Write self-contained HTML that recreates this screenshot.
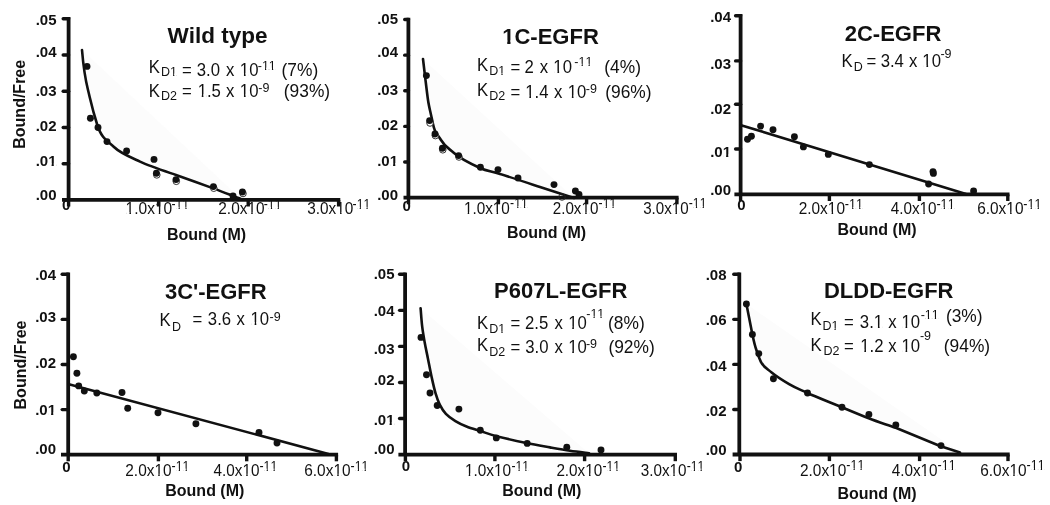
<!DOCTYPE html>
<html><head><meta charset="utf-8"><title>Scatchard plots</title>
<style>
html,body{margin:0;padding:0;background:#fff;}
body{width:1050px;height:505px;overflow:hidden;font-family:"Liberation Sans", sans-serif;}
text{font-kerning:none;}
svg{display:block;will-change:transform;font-family:"Liberation Sans", sans-serif;fill:#111;}
</style></head><body>
<svg width="1050" height="505" viewBox="0 0 1050 505">
<defs></defs>
<rect x="0" y="0" width="1050" height="505" fill="#ffffff"/>
<path d="M82,50 C83,62 85.5,80 88,90 S92,108 97,124 S108,141 114,147 S130,157 140,161.6 S166,171.5 176,175 S205,185.3 214,188.6 S235,196.8 241,199 Z" fill="#fcfcfc" stroke="none"/>
<text x="56.5" y="25" font-size="15" font-weight="700" text-anchor="end">.05</text>
<text x="56.5" y="57.3" font-size="15" font-weight="700" text-anchor="end">.04</text>
<text x="56.5" y="96" font-size="15" font-weight="700" text-anchor="end">.03</text>
<text x="56.5" y="131" font-size="15" font-weight="700" text-anchor="end">.02</text>
<text x="56.5" y="165.9" font-size="15" font-weight="700" text-anchor="end">.01</text><rect x="48.66" y="163.37" width="2.92" height="3.23" fill="#fff"/><rect x="53.79" y="163.37" width="2.73" height="3.23" fill="#fff"/>
<text x="56.5" y="200.4" font-size="15" font-weight="700" text-anchor="end">.00</text>
<text x="66.2" y="210.20000000000002" font-size="15" font-weight="700" text-anchor="middle">0</text>
<text x="125.62" y="214.3" font-size="17.3" textLength="46.63" lengthAdjust="spacingAndGlyphs">1.0x10</text><rect x="126.35" y="212.01" width="3.10" height="2.99" fill="#fff"/><rect x="130.97" y="212.01" width="2.98" height="2.99" fill="#fff"/><rect x="155.70" y="212.01" width="3.10" height="2.99" fill="#fff"/><rect x="160.33" y="212.01" width="2.98" height="2.99" fill="#fff"/>
<text x="171.51" y="209.0" font-size="15" textLength="17.66" lengthAdjust="spacingAndGlyphs">-11</text><rect x="176.15" y="206.88" width="2.44" height="2.82" fill="#fff"/><rect x="179.79" y="206.88" width="2.34" height="2.82" fill="#fff"/><rect x="182.94" y="206.88" width="2.44" height="2.82" fill="#fff"/><rect x="186.58" y="206.88" width="2.34" height="2.82" fill="#fff"/>
<text x="218.29" y="214.3" font-size="17.3" textLength="46.26" lengthAdjust="spacingAndGlyphs">2.0x10</text><rect x="248.14" y="212.01" width="3.08" height="2.99" fill="#fff"/><rect x="252.73" y="212.01" width="2.96" height="2.99" fill="#fff"/>
<text x="263.81" y="209.0" font-size="15" textLength="17.66" lengthAdjust="spacingAndGlyphs">-11</text><rect x="268.45" y="206.88" width="2.44" height="2.82" fill="#fff"/><rect x="272.09" y="206.88" width="2.34" height="2.82" fill="#fff"/><rect x="275.24" y="206.88" width="2.44" height="2.82" fill="#fff"/><rect x="278.88" y="206.88" width="2.34" height="2.82" fill="#fff"/>
<text x="307.26" y="214.3" font-size="17.3" textLength="46.09" lengthAdjust="spacingAndGlyphs">3.0x10</text><rect x="337.00" y="212.01" width="3.07" height="2.99" fill="#fff"/><rect x="341.57" y="212.01" width="2.95" height="2.99" fill="#fff"/>
<text x="352.61" y="209.0" font-size="15" textLength="17.66" lengthAdjust="spacingAndGlyphs">-11</text><rect x="357.25" y="206.88" width="2.44" height="2.82" fill="#fff"/><rect x="360.89" y="206.88" width="2.34" height="2.82" fill="#fff"/><rect x="364.04" y="206.88" width="2.44" height="2.82" fill="#fff"/><rect x="367.68" y="206.88" width="2.34" height="2.82" fill="#fff"/>
<line x1="68.6" y1="17.1" x2="68.6" y2="199.9" stroke="#111" stroke-width="3.8"/>
<line x1="62" y1="199.9" x2="340.3" y2="199.9" stroke="#111" stroke-width="3.8"/>
<line x1="63.2" y1="18.80" x2="68.6" y2="18.80" stroke="#111" stroke-width="3.4" stroke-linecap="round"/>
<line x1="63.2" y1="55.02" x2="68.6" y2="55.02" stroke="#111" stroke-width="3.4" stroke-linecap="round"/>
<line x1="63.2" y1="91.24" x2="68.6" y2="91.24" stroke="#111" stroke-width="3.4" stroke-linecap="round"/>
<line x1="63.2" y1="127.46" x2="68.6" y2="127.46" stroke="#111" stroke-width="3.4" stroke-linecap="round"/>
<line x1="63.2" y1="163.68" x2="68.6" y2="163.68" stroke="#111" stroke-width="3.4" stroke-linecap="round"/>
<line x1="68.6" y1="199.9" x2="68.6" y2="206.5" stroke="#111" stroke-width="3.4"/>
<line x1="158.6" y1="199.9" x2="158.6" y2="206.5" stroke="#111" stroke-width="3.4"/>
<line x1="248.2" y1="199.9" x2="248.2" y2="206.5" stroke="#111" stroke-width="3.4"/>
<line x1="338.6" y1="199.9" x2="338.6" y2="206.5" stroke="#111" stroke-width="3.4"/>
<text x="206.5" y="239.5" font-size="16" font-weight="700" text-anchor="middle">Bound (M)</text>
<text transform="translate(25,104.3) rotate(-90)" font-size="16" font-weight="700" text-anchor="middle">Bound/Free</text>
<text x="217.5" y="43" font-size="22.5" font-weight="700" text-anchor="middle">Wild type</text>
<text transform="translate(148.63,73.0) scale(0.93,1)" font-size="18">K</text>
<text x="160.97" y="75.5" font-size="12.5">D1</text><rect x="170.58" y="73.57" width="2.50" height="2.63" fill="#fff"/><rect x="174.31" y="73.57" width="2.40" height="2.63" fill="#fff"/>
<text transform="translate(182.08,75.5) scale(0.93,1)" font-size="18">=</text>
<text transform="translate(196.76,75.5) scale(0.93,1)" font-size="18">3.0</text>
<text transform="translate(226.12,75.5) scale(0.93,1)" font-size="18">x</text>
<text transform="translate(239.83,75.5) scale(0.93,1)" font-size="18">10</text><rect x="240.61" y="73.16" width="3.34" height="3.04" fill="#fff"/><rect x="245.60" y="73.16" width="3.21" height="3.04" fill="#fff"/>
<text x="257.75" y="69.6" font-size="12.5">-11</text><rect x="262.50" y="67.67" width="2.50" height="2.63" fill="#fff"/><rect x="266.22" y="67.67" width="2.40" height="2.63" fill="#fff"/><rect x="269.45" y="67.67" width="2.50" height="2.63" fill="#fff"/><rect x="273.17" y="67.67" width="2.40" height="2.63" fill="#fff"/>
<text transform="translate(281.52,75.5) scale(0.965,1)" font-size="18">(7%)</text>
<text transform="translate(148.63,96.7) scale(0.93,1)" font-size="18">K</text>
<text x="160.97" y="99.6" font-size="12.5">D2</text>
<text transform="translate(182.08,96.7) scale(0.93,1)" font-size="18">=</text>
<text transform="translate(197.63,96.7) scale(0.93,1)" font-size="18">1.5</text><rect x="198.41" y="94.36" width="3.34" height="3.04" fill="#fff"/><rect x="203.40" y="94.36" width="3.21" height="3.04" fill="#fff"/>
<text transform="translate(226.12,96.7) scale(0.93,1)" font-size="18">x</text>
<text transform="translate(239.83,96.7) scale(0.93,1)" font-size="18">10</text><rect x="240.61" y="94.36" width="3.34" height="3.04" fill="#fff"/><rect x="245.60" y="94.36" width="3.21" height="3.04" fill="#fff"/>
<text x="258.35" y="91.9" font-size="12.5">-9</text>
<text transform="translate(283.82,96.7) scale(0.965,1)" font-size="18">(93%)</text>
<path d="M82,50 C83,62 85.5,80 88,90 S92,108 97,124 S108,141 114,147 S130,157 140,161.6 S166,171.5 176,175 S205,185.3 214,188.6 S235,196.8 241,199" fill="none" stroke="#111" stroke-width="2.6" stroke-linecap="round" stroke-linejoin="round"/>
<circle cx="156.8" cy="174.9" r="3.3" fill="#fff" stroke="#222" stroke-width="0.9"/>
<circle cx="176.3" cy="181.3" r="3.3" fill="#fff" stroke="#222" stroke-width="0.9"/>
<circle cx="213.8" cy="188.2" r="3.3" fill="#fff" stroke="#222" stroke-width="0.9"/>
<circle cx="243" cy="193.5" r="3.3" fill="#fff" stroke="#222" stroke-width="0.9"/>
<circle cx="87" cy="66.4" r="3.45" fill="#111"/>
<circle cx="90.4" cy="118.2" r="3.45" fill="#111"/>
<circle cx="98" cy="127.5" r="3.45" fill="#111"/>
<circle cx="107" cy="141.6" r="3.45" fill="#111"/>
<circle cx="126.6" cy="151" r="3.45" fill="#111"/>
<circle cx="154" cy="159.4" r="3.45" fill="#111"/>
<circle cx="156.4" cy="173.2" r="3.45" fill="#111"/>
<circle cx="176" cy="179.6" r="3.45" fill="#111"/>
<circle cx="213.4" cy="186.6" r="3.45" fill="#111"/>
<circle cx="233" cy="196" r="3.45" fill="#111"/>
<circle cx="242.4" cy="192" r="3.45" fill="#111"/>
<path d="M423,59 C423.8,66 424.5,72 425,76 S427,93 428,100 S430.5,112 433,124 S437,133 441,140 S449,148.5 454,153 S473,164.8 480,168 S490,171 500,174 S530,183.7 540,187 S567,195.8 574,198 Z" fill="#fcfcfc" stroke="none"/>
<text x="398" y="24.4" font-size="15" font-weight="700" text-anchor="end">.05</text>
<text x="398" y="57" font-size="15" font-weight="700" text-anchor="end">.04</text>
<text x="398" y="95" font-size="15" font-weight="700" text-anchor="end">.03</text>
<text x="398" y="130" font-size="15" font-weight="700" text-anchor="end">.02</text>
<text x="398" y="165.6" font-size="15" font-weight="700" text-anchor="end">.01</text><rect x="390.16" y="163.07" width="2.92" height="3.23" fill="#fff"/><rect x="395.29" y="163.07" width="2.73" height="3.23" fill="#fff"/>
<text x="398" y="200" font-size="15" font-weight="700" text-anchor="end">.00</text>
<text x="406.6" y="210.6" font-size="15" font-weight="700" text-anchor="middle">0</text>
<text x="463.92" y="214.2" font-size="17.3" textLength="45.93" lengthAdjust="spacingAndGlyphs">1.0x10</text><rect x="464.64" y="211.91" width="3.06" height="2.99" fill="#fff"/><rect x="469.19" y="211.91" width="2.94" height="2.99" fill="#fff"/><rect x="493.55" y="211.91" width="3.06" height="2.99" fill="#fff"/><rect x="498.11" y="211.91" width="2.94" height="2.99" fill="#fff"/>
<text x="510.11" y="208.1" font-size="15" textLength="17.66" lengthAdjust="spacingAndGlyphs">-11</text><rect x="514.75" y="205.98" width="2.44" height="2.82" fill="#fff"/><rect x="518.39" y="205.98" width="2.34" height="2.82" fill="#fff"/><rect x="521.54" y="205.98" width="2.44" height="2.82" fill="#fff"/><rect x="525.18" y="205.98" width="2.34" height="2.82" fill="#fff"/>
<text x="552.79" y="214.2" font-size="17.3" textLength="45.56" lengthAdjust="spacingAndGlyphs">2.0x10</text><rect x="582.18" y="211.91" width="3.03" height="2.99" fill="#fff"/><rect x="586.70" y="211.91" width="2.91" height="2.99" fill="#fff"/>
<text x="598.61" y="208.1" font-size="15" textLength="17.66" lengthAdjust="spacingAndGlyphs">-11</text><rect x="603.25" y="205.98" width="2.44" height="2.82" fill="#fff"/><rect x="606.89" y="205.98" width="2.34" height="2.82" fill="#fff"/><rect x="610.04" y="205.98" width="2.44" height="2.82" fill="#fff"/><rect x="613.68" y="205.98" width="2.34" height="2.82" fill="#fff"/>
<text x="643.16" y="214.2" font-size="17.3" textLength="45.39" lengthAdjust="spacingAndGlyphs">3.0x10</text><rect x="672.44" y="211.91" width="3.02" height="2.99" fill="#fff"/><rect x="676.95" y="211.91" width="2.90" height="2.99" fill="#fff"/>
<text x="688.81" y="208.1" font-size="15" textLength="17.66" lengthAdjust="spacingAndGlyphs">-11</text><rect x="693.45" y="205.98" width="2.44" height="2.82" fill="#fff"/><rect x="697.09" y="205.98" width="2.34" height="2.82" fill="#fff"/><rect x="700.24" y="205.98" width="2.44" height="2.82" fill="#fff"/><rect x="703.88" y="205.98" width="2.34" height="2.82" fill="#fff"/>
<line x1="408.4" y1="17.8" x2="408.4" y2="197.7" stroke="#111" stroke-width="3.8"/>
<line x1="403.5" y1="197.7" x2="678.6" y2="197.7" stroke="#111" stroke-width="3.8"/>
<line x1="404.7" y1="19.50" x2="408.4" y2="19.50" stroke="#111" stroke-width="3.4" stroke-linecap="round"/>
<line x1="404.7" y1="55.14" x2="408.4" y2="55.14" stroke="#111" stroke-width="3.4" stroke-linecap="round"/>
<line x1="404.7" y1="90.78" x2="408.4" y2="90.78" stroke="#111" stroke-width="3.4" stroke-linecap="round"/>
<line x1="404.7" y1="126.42" x2="408.4" y2="126.42" stroke="#111" stroke-width="3.4" stroke-linecap="round"/>
<line x1="404.7" y1="162.06" x2="408.4" y2="162.06" stroke="#111" stroke-width="3.4" stroke-linecap="round"/>
<line x1="408.5" y1="197.7" x2="408.5" y2="204.29999999999998" stroke="#111" stroke-width="3.4"/>
<line x1="498.4" y1="197.7" x2="498.4" y2="204.29999999999998" stroke="#111" stroke-width="3.4"/>
<line x1="586.6" y1="197.7" x2="586.6" y2="204.29999999999998" stroke="#111" stroke-width="3.4"/>
<line x1="676.9" y1="197.7" x2="676.9" y2="204.29999999999998" stroke="#111" stroke-width="3.4"/>
<text x="546.5" y="238.4" font-size="16" font-weight="700" text-anchor="middle">Bound (M)</text>
<text x="550.5" y="43.6" font-size="22" font-weight="700" text-anchor="middle">1C-EGFR</text><rect x="502.96" y="40.35" width="4.29" height="3.95" fill="#fff"/><rect x="510.48" y="40.35" width="4.01" height="3.95" fill="#fff"/>
<text transform="translate(477.03,71.2) scale(0.93,1)" font-size="18">K</text>
<text x="489.28" y="74.9" font-size="12.5">D1</text><rect x="498.89" y="72.97" width="2.50" height="2.63" fill="#fff"/><rect x="502.62" y="72.97" width="2.40" height="2.63" fill="#fff"/>
<text transform="translate(510.38,73.2) scale(0.93,1)" font-size="18">=</text>
<text transform="translate(524.46,73.2) scale(0.93,1)" font-size="18">2</text>
<text transform="translate(539.82,73.2) scale(0.93,1)" font-size="18">x</text>
<text transform="translate(553.33,73.2) scale(0.93,1)" font-size="18">10</text><rect x="554.11" y="70.86" width="3.34" height="3.04" fill="#fff"/><rect x="559.10" y="70.86" width="3.21" height="3.04" fill="#fff"/>
<text x="574.35" y="65.6" font-size="12.5">-11</text><rect x="579.10" y="63.67" width="2.50" height="2.63" fill="#fff"/><rect x="582.82" y="63.67" width="2.40" height="2.63" fill="#fff"/><rect x="586.05" y="63.67" width="2.50" height="2.63" fill="#fff"/><rect x="589.77" y="63.67" width="2.40" height="2.63" fill="#fff"/>
<text transform="translate(604.32,73.2) scale(0.965,1)" font-size="18">(4%)</text>
<text transform="translate(477.03,95.8) scale(0.93,1)" font-size="18">K</text>
<text x="489.28" y="99.9" font-size="12.5">D2</text>
<text transform="translate(510.38,97.8) scale(0.93,1)" font-size="18">=</text>
<text transform="translate(525.23,97.8) scale(0.93,1)" font-size="18">1.4</text><rect x="526.01" y="95.46" width="3.34" height="3.04" fill="#fff"/><rect x="531.00" y="95.46" width="3.21" height="3.04" fill="#fff"/>
<text transform="translate(554.12,97.8) scale(0.93,1)" font-size="18">x</text>
<text transform="translate(567.73,97.8) scale(0.93,1)" font-size="18">10</text><rect x="568.51" y="95.46" width="3.34" height="3.04" fill="#fff"/><rect x="573.50" y="95.46" width="3.21" height="3.04" fill="#fff"/>
<text x="585.75" y="92.8" font-size="12.5">-9</text>
<text transform="translate(605.22,97.8) scale(0.965,1)" font-size="18">(96%)</text>
<path d="M423,59 C423.8,66 424.5,72 425,76 S427,93 428,100 S430.5,112 433,124 S437,133 441,140 S449,148.5 454,153 S473,164.8 480,168 S490,171 500,174 S530,183.7 540,187 S567,195.8 574,198" fill="none" stroke="#111" stroke-width="2.6" stroke-linecap="round" stroke-linejoin="round"/>
<circle cx="430" cy="123" r="3.3" fill="#fff" stroke="#222" stroke-width="0.9"/>
<circle cx="435.4" cy="135.6" r="3.3" fill="#fff" stroke="#222" stroke-width="0.9"/>
<circle cx="442.8" cy="149.8" r="3.3" fill="#fff" stroke="#222" stroke-width="0.9"/>
<circle cx="459" cy="157" r="3.3" fill="#fff" stroke="#222" stroke-width="0.9"/>
<circle cx="562" cy="197" r="3.3" fill="none" stroke="#222" stroke-width="0.9"/>
<circle cx="426.4" cy="75.6" r="3.45" fill="#111"/>
<circle cx="429.6" cy="120.6" r="3.45" fill="#111"/>
<circle cx="435" cy="134" r="3.45" fill="#111"/>
<circle cx="442.4" cy="148.2" r="3.45" fill="#111"/>
<circle cx="458.6" cy="155.6" r="3.45" fill="#111"/>
<circle cx="480.4" cy="167.2" r="3.45" fill="#111"/>
<circle cx="498" cy="169.6" r="3.45" fill="#111"/>
<circle cx="518" cy="178" r="3.45" fill="#111"/>
<circle cx="554" cy="184.6" r="3.45" fill="#111"/>
<circle cx="575.4" cy="191" r="3.45" fill="#111"/>
<circle cx="579" cy="194.4" r="3.45" fill="#111"/>
<text x="731" y="22.3" font-size="15" font-weight="700" text-anchor="end">.04</text>
<text x="731" y="68.8" font-size="15" font-weight="700" text-anchor="end">.03</text>
<text x="731" y="114.3" font-size="15" font-weight="700" text-anchor="end">.02</text>
<text x="731" y="157" font-size="15" font-weight="700" text-anchor="end">.01</text><rect x="723.16" y="154.47" width="2.92" height="3.23" fill="#fff"/><rect x="728.29" y="154.47" width="2.73" height="3.23" fill="#fff"/>
<text x="731" y="194.7" font-size="15" font-weight="700" text-anchor="end">.00</text>
<text x="741.3" y="209.70000000000002" font-size="15" font-weight="700" text-anchor="middle">0</text>
<text x="798.69" y="214.0" font-size="17.3" textLength="46.26" lengthAdjust="spacingAndGlyphs">2.0x10</text><rect x="828.54" y="211.71" width="3.08" height="2.99" fill="#fff"/><rect x="833.13" y="211.71" width="2.96" height="2.99" fill="#fff"/>
<text x="844.81" y="209.1" font-size="15" textLength="18.26" lengthAdjust="spacingAndGlyphs">-11</text><rect x="849.61" y="206.98" width="2.52" height="2.82" fill="#fff"/><rect x="853.37" y="206.98" width="2.42" height="2.82" fill="#fff"/><rect x="856.63" y="206.98" width="2.52" height="2.82" fill="#fff"/><rect x="860.40" y="206.98" width="2.42" height="2.82" fill="#fff"/>
<text x="890.67" y="214.0" font-size="17.3" textLength="45.88" lengthAdjust="spacingAndGlyphs">4.0x10</text><rect x="920.27" y="211.71" width="3.05" height="2.99" fill="#fff"/><rect x="924.82" y="211.71" width="2.93" height="2.99" fill="#fff"/>
<text x="936.41" y="209.1" font-size="15" textLength="18.26" lengthAdjust="spacingAndGlyphs">-11</text><rect x="941.21" y="206.98" width="2.52" height="2.82" fill="#fff"/><rect x="944.97" y="206.98" width="2.42" height="2.82" fill="#fff"/><rect x="948.23" y="206.98" width="2.52" height="2.82" fill="#fff"/><rect x="952.00" y="206.98" width="2.42" height="2.82" fill="#fff"/>
<text x="977.18" y="214.0" font-size="17.3" textLength="46.28" lengthAdjust="spacingAndGlyphs">6.0x10</text><rect x="1007.04" y="211.71" width="3.08" height="2.99" fill="#fff"/><rect x="1011.63" y="211.71" width="2.96" height="2.99" fill="#fff"/>
<text x="1023.31" y="209.1" font-size="15" textLength="18.26" lengthAdjust="spacingAndGlyphs">-11</text><rect x="1028.11" y="206.98" width="2.52" height="2.82" fill="#fff"/><rect x="1031.87" y="206.98" width="2.42" height="2.82" fill="#fff"/><rect x="1035.13" y="206.98" width="2.52" height="2.82" fill="#fff"/><rect x="1038.90" y="206.98" width="2.42" height="2.82" fill="#fff"/>
<line x1="740.6" y1="14.0" x2="740.6" y2="194.4" stroke="#111" stroke-width="3.8"/>
<line x1="734.4" y1="194.4" x2="1009.5" y2="194.4" stroke="#111" stroke-width="3.8"/>
<line x1="735.6" y1="15.70" x2="740.6" y2="15.70" stroke="#111" stroke-width="3.4" stroke-linecap="round"/>
<line x1="735.6" y1="60.90" x2="740.6" y2="60.90" stroke="#111" stroke-width="3.4" stroke-linecap="round"/>
<line x1="735.6" y1="104.30" x2="740.6" y2="104.30" stroke="#111" stroke-width="3.4" stroke-linecap="round"/>
<line x1="735.6" y1="149.00" x2="740.6" y2="149.00" stroke="#111" stroke-width="3.4" stroke-linecap="round"/>
<line x1="740.6" y1="194.4" x2="740.6" y2="201.0" stroke="#111" stroke-width="3.4"/>
<line x1="829.4" y1="194.4" x2="829.4" y2="201.0" stroke="#111" stroke-width="3.4"/>
<line x1="919.4" y1="194.4" x2="919.4" y2="201.0" stroke="#111" stroke-width="3.4"/>
<line x1="1007.8" y1="194.4" x2="1007.8" y2="201.0" stroke="#111" stroke-width="3.4"/>
<text x="877" y="235" font-size="16" font-weight="700" text-anchor="middle">Bound (M)</text>
<text x="893" y="41" font-size="22" font-weight="700" text-anchor="middle">2C-EGFR</text>
<text transform="translate(841.43,67.3) scale(0.93,1)" font-size="18">K</text>
<text x="853.68" y="71.0" font-size="12.5">D</text>
<text transform="translate(866.38,67.3) scale(0.93,1)" font-size="18">=</text>
<text transform="translate(880.66,67.3) scale(0.93,1)" font-size="18">3.4</text>
<text transform="translate(909.12,67.3) scale(0.93,1)" font-size="18">x</text>
<text transform="translate(922.33,67.3) scale(0.93,1)" font-size="18">10</text><rect x="923.11" y="64.96" width="3.34" height="3.04" fill="#fff"/><rect x="928.10" y="64.96" width="3.21" height="3.04" fill="#fff"/>
<text x="940.45" y="57.8" font-size="12.5">-9</text>
<path d="M741,125.2 L966,194" fill="none" stroke="#111" stroke-width="2.6" stroke-linecap="round" stroke-linejoin="round"/>
<circle cx="747.5" cy="139.2" r="3.45" fill="#111"/>
<circle cx="751.4" cy="136.2" r="3.45" fill="#111"/>
<circle cx="760.6" cy="126.1" r="3.45" fill="#111"/>
<circle cx="773" cy="129.7" r="3.45" fill="#111"/>
<circle cx="794.4" cy="136.8" r="3.45" fill="#111"/>
<circle cx="803.4" cy="146.9" r="3.45" fill="#111"/>
<circle cx="828.3" cy="154.4" r="3.45" fill="#111"/>
<circle cx="869.4" cy="164.6" r="3.45" fill="#111"/>
<circle cx="933" cy="171.6" r="3.45" fill="#111"/>
<circle cx="933.4" cy="173.4" r="3.45" fill="#111"/>
<circle cx="928.6" cy="184" r="3.45" fill="#111"/>
<circle cx="973.6" cy="191" r="3.45" fill="#111"/>
<text x="56" y="280" font-size="15" font-weight="700" text-anchor="end">.04</text>
<text x="56" y="322.3" font-size="15" font-weight="700" text-anchor="end">.03</text>
<text x="56" y="367.7" font-size="15" font-weight="700" text-anchor="end">.02</text>
<text x="56" y="415" font-size="15" font-weight="700" text-anchor="end">.01</text><rect x="48.16" y="412.47" width="2.92" height="3.23" fill="#fff"/><rect x="53.29" y="412.47" width="2.73" height="3.23" fill="#fff"/>
<text x="56" y="453.6" font-size="15" font-weight="700" text-anchor="end">.00</text>
<text x="66.5" y="471.59999999999997" font-size="15" font-weight="700" text-anchor="middle">0</text>
<text x="125.29" y="476.0" font-size="17.3" textLength="46.26" lengthAdjust="spacingAndGlyphs">2.0x10</text><rect x="155.14" y="473.71" width="3.08" height="2.99" fill="#fff"/><rect x="159.73" y="473.71" width="2.96" height="2.99" fill="#fff"/>
<text x="171.61" y="470.7" font-size="15" textLength="17.86" lengthAdjust="spacingAndGlyphs">-11</text><rect x="176.30" y="468.58" width="2.47" height="2.82" fill="#fff"/><rect x="179.98" y="468.58" width="2.37" height="2.82" fill="#fff"/><rect x="183.17" y="468.58" width="2.47" height="2.82" fill="#fff"/><rect x="186.85" y="468.58" width="2.37" height="2.82" fill="#fff"/>
<text x="213.57" y="476.0" font-size="17.3" textLength="45.88" lengthAdjust="spacingAndGlyphs">4.0x10</text><rect x="243.17" y="473.71" width="3.05" height="2.99" fill="#fff"/><rect x="247.72" y="473.71" width="2.93" height="2.99" fill="#fff"/>
<text x="259.51" y="470.7" font-size="15" textLength="17.86" lengthAdjust="spacingAndGlyphs">-11</text><rect x="264.20" y="468.58" width="2.47" height="2.82" fill="#fff"/><rect x="267.88" y="468.58" width="2.37" height="2.82" fill="#fff"/><rect x="271.07" y="468.58" width="2.47" height="2.82" fill="#fff"/><rect x="274.75" y="468.58" width="2.37" height="2.82" fill="#fff"/>
<text x="304.28" y="476.0" font-size="17.3" textLength="46.28" lengthAdjust="spacingAndGlyphs">6.0x10</text><rect x="334.14" y="473.71" width="3.08" height="2.99" fill="#fff"/><rect x="338.73" y="473.71" width="2.96" height="2.99" fill="#fff"/>
<text x="350.61" y="470.7" font-size="15" textLength="17.86" lengthAdjust="spacingAndGlyphs">-11</text><rect x="355.30" y="468.58" width="2.47" height="2.82" fill="#fff"/><rect x="358.98" y="468.58" width="2.37" height="2.82" fill="#fff"/><rect x="362.17" y="468.58" width="2.47" height="2.82" fill="#fff"/><rect x="365.85" y="468.58" width="2.37" height="2.82" fill="#fff"/>
<line x1="68.2" y1="272.6" x2="68.2" y2="454.7" stroke="#111" stroke-width="3.8"/>
<line x1="61" y1="454.7" x2="338.09999999999997" y2="454.7" stroke="#111" stroke-width="3.8"/>
<line x1="62.2" y1="274.30" x2="68.2" y2="274.30" stroke="#111" stroke-width="3.4" stroke-linecap="round"/>
<line x1="62.2" y1="319.40" x2="68.2" y2="319.40" stroke="#111" stroke-width="3.4" stroke-linecap="round"/>
<line x1="62.2" y1="364.50" x2="68.2" y2="364.50" stroke="#111" stroke-width="3.4" stroke-linecap="round"/>
<line x1="62.2" y1="409.60" x2="68.2" y2="409.60" stroke="#111" stroke-width="3.4" stroke-linecap="round"/>
<line x1="68.2" y1="454.7" x2="68.2" y2="461.3" stroke="#111" stroke-width="3.4"/>
<line x1="158.4" y1="454.7" x2="158.4" y2="461.3" stroke="#111" stroke-width="3.4"/>
<line x1="246.7" y1="454.7" x2="246.7" y2="461.3" stroke="#111" stroke-width="3.4"/>
<line x1="336.4" y1="454.7" x2="336.4" y2="461.3" stroke="#111" stroke-width="3.4"/>
<text x="204.8" y="496.4" font-size="16" font-weight="700" text-anchor="middle">Bound (M)</text>
<text transform="translate(25.5,365) rotate(-90)" font-size="16" font-weight="700" text-anchor="middle">Bound/Free</text>
<text x="215.8" y="299" font-size="22" font-weight="700" text-anchor="middle">3C'-EGFR</text>
<text transform="translate(159.53,326.2) scale(0.93,1)" font-size="18">K</text>
<text x="171.88" y="330.7" font-size="12.5">D</text>
<text transform="translate(192.58,324.5) scale(0.93,1)" font-size="18">=</text>
<text transform="translate(207.86,324.5) scale(0.93,1)" font-size="18">3.6</text>
<text transform="translate(236.52,324.5) scale(0.93,1)" font-size="18">x</text>
<text transform="translate(250.53,324.5) scale(0.93,1)" font-size="18">10</text><rect x="251.31" y="322.16" width="3.34" height="3.04" fill="#fff"/><rect x="256.30" y="322.16" width="3.21" height="3.04" fill="#fff"/>
<text x="269.55" y="320.8" font-size="12.5">-9</text>
<path d="M68.9,384.2 L328.5,454" fill="none" stroke="#111" stroke-width="2.6" stroke-linecap="round" stroke-linejoin="round"/>
<circle cx="73.4" cy="356.8" r="3.45" fill="#111"/>
<circle cx="76.9" cy="373.2" r="3.45" fill="#111"/>
<circle cx="78.7" cy="385.9" r="3.45" fill="#111"/>
<circle cx="84.3" cy="391" r="3.45" fill="#111"/>
<circle cx="96.8" cy="393" r="3.45" fill="#111"/>
<circle cx="122" cy="392.5" r="3.45" fill="#111"/>
<circle cx="127.7" cy="408.2" r="3.45" fill="#111"/>
<circle cx="158" cy="412.7" r="3.45" fill="#111"/>
<circle cx="195.9" cy="423.8" r="3.45" fill="#111"/>
<circle cx="259" cy="432.4" r="3.45" fill="#111"/>
<circle cx="277" cy="443" r="3.45" fill="#111"/>
<path d="M420.6,308.3 C420.87,311.37 421.52,321.00 422.2,326.7 C422.88,332.40 423.75,337.22 424.7,342.5 C425.65,347.78 426.73,352.58 427.9,358.4 C429.07,364.22 430.43,371.60 431.7,377.4 C432.97,383.20 434.18,388.72 435.5,393.2 C436.82,397.68 437.87,400.87 439.6,404.3 C441.33,407.73 443.27,411.00 445.9,413.8 C448.53,416.60 451.97,418.98 455.4,421.1 C458.83,423.22 462.27,424.82 466.5,426.5 C470.73,428.18 475.78,429.58 480.8,431.2 C485.82,432.82 489.02,434.23 496.6,436.2 C504.18,438.17 517.40,441.13 526.3,443 C535.20,444.87 542.72,446.10 550,447.4 C557.28,448.70 563.50,449.83 570,450.8 C576.50,451.77 585.83,452.80 589,453.2 Z" fill="#fcfcfc" stroke="none"/>
<text x="394.5" y="279.4" font-size="15" font-weight="700" text-anchor="end">.05</text>
<text x="394.5" y="316" font-size="15" font-weight="700" text-anchor="end">.04</text>
<text x="394.5" y="354.4" font-size="15" font-weight="700" text-anchor="end">.03</text>
<text x="394.5" y="384.5" font-size="15" font-weight="700" text-anchor="end">.02</text>
<text x="394.5" y="424.6" font-size="15" font-weight="700" text-anchor="end">.01</text><rect x="386.66" y="422.07" width="2.92" height="3.23" fill="#fff"/><rect x="391.79" y="422.07" width="2.73" height="3.23" fill="#fff"/>
<text x="394.5" y="453.8" font-size="15" font-weight="700" text-anchor="end">.00</text>
<text x="405.9" y="471.20000000000005" font-size="15" font-weight="700" text-anchor="middle">0</text>
<text x="464.92" y="475.8" font-size="17.3" textLength="46.23" lengthAdjust="spacingAndGlyphs">1.0x10</text><rect x="465.64" y="473.51" width="3.08" height="2.99" fill="#fff"/><rect x="470.23" y="473.51" width="2.95" height="2.99" fill="#fff"/><rect x="494.75" y="473.51" width="3.08" height="2.99" fill="#fff"/><rect x="499.33" y="473.51" width="2.95" height="2.99" fill="#fff"/>
<text x="511.41" y="470.6" font-size="15" textLength="17.66" lengthAdjust="spacingAndGlyphs">-11</text><rect x="516.05" y="468.48" width="2.44" height="2.82" fill="#fff"/><rect x="519.69" y="468.48" width="2.34" height="2.82" fill="#fff"/><rect x="522.84" y="468.48" width="2.44" height="2.82" fill="#fff"/><rect x="526.48" y="468.48" width="2.34" height="2.82" fill="#fff"/>
<text x="556.39" y="475.8" font-size="17.3" textLength="45.86" lengthAdjust="spacingAndGlyphs">2.0x10</text><rect x="585.98" y="473.51" width="3.05" height="2.99" fill="#fff"/><rect x="590.53" y="473.51" width="2.93" height="2.99" fill="#fff"/>
<text x="602.51" y="470.6" font-size="15" textLength="17.66" lengthAdjust="spacingAndGlyphs">-11</text><rect x="607.15" y="468.48" width="2.44" height="2.82" fill="#fff"/><rect x="610.79" y="468.48" width="2.34" height="2.82" fill="#fff"/><rect x="613.94" y="468.48" width="2.44" height="2.82" fill="#fff"/><rect x="617.58" y="468.48" width="2.34" height="2.82" fill="#fff"/>
<text x="640.76" y="475.8" font-size="17.3" textLength="45.69" lengthAdjust="spacingAndGlyphs">3.0x10</text><rect x="670.24" y="473.51" width="3.04" height="2.99" fill="#fff"/><rect x="674.77" y="473.51" width="2.92" height="2.99" fill="#fff"/>
<text x="686.71" y="470.6" font-size="15" textLength="17.66" lengthAdjust="spacingAndGlyphs">-11</text><rect x="691.35" y="468.48" width="2.44" height="2.82" fill="#fff"/><rect x="694.99" y="468.48" width="2.34" height="2.82" fill="#fff"/><rect x="698.14" y="468.48" width="2.44" height="2.82" fill="#fff"/><rect x="701.78" y="468.48" width="2.34" height="2.82" fill="#fff"/>
<line x1="405.1" y1="272.6" x2="405.1" y2="454.6" stroke="#111" stroke-width="3.8"/>
<line x1="398.4" y1="454.6" x2="677.0" y2="454.6" stroke="#111" stroke-width="3.8"/>
<line x1="399.59999999999997" y1="274.30" x2="405.1" y2="274.30" stroke="#111" stroke-width="3.4" stroke-linecap="round"/>
<line x1="399.59999999999997" y1="310.36" x2="405.1" y2="310.36" stroke="#111" stroke-width="3.4" stroke-linecap="round"/>
<line x1="399.59999999999997" y1="346.42" x2="405.1" y2="346.42" stroke="#111" stroke-width="3.4" stroke-linecap="round"/>
<line x1="399.59999999999997" y1="382.48" x2="405.1" y2="382.48" stroke="#111" stroke-width="3.4" stroke-linecap="round"/>
<line x1="399.59999999999997" y1="418.54" x2="405.1" y2="418.54" stroke="#111" stroke-width="3.4" stroke-linecap="round"/>
<line x1="405.4" y1="454.6" x2="405.4" y2="461.20000000000005" stroke="#111" stroke-width="3.4"/>
<line x1="494.9" y1="454.6" x2="494.9" y2="461.20000000000005" stroke="#111" stroke-width="3.4"/>
<line x1="584.6" y1="454.6" x2="584.6" y2="461.20000000000005" stroke="#111" stroke-width="3.4"/>
<line x1="675.3" y1="454.6" x2="675.3" y2="461.20000000000005" stroke="#111" stroke-width="3.4"/>
<text x="541.8" y="496" font-size="16" font-weight="700" text-anchor="middle">Bound (M)</text>
<text x="560.7" y="298" font-size="22" font-weight="700" text-anchor="middle">P607L-EGFR</text>
<text transform="translate(477.03,328.7) scale(0.93,1)" font-size="18">K</text>
<text x="489.28" y="333.4" font-size="12.5">D1</text><rect x="498.89" y="331.47" width="2.50" height="2.63" fill="#fff"/><rect x="502.62" y="331.47" width="2.40" height="2.63" fill="#fff"/>
<text transform="translate(510.38,328.7) scale(0.93,1)" font-size="18">=</text>
<text transform="translate(525.06,328.7) scale(0.93,1)" font-size="18">2.5</text>
<text transform="translate(554.62,328.7) scale(0.93,1)" font-size="18">x</text>
<text transform="translate(568.13,328.7) scale(0.93,1)" font-size="18">10</text><rect x="568.91" y="326.36" width="3.34" height="3.04" fill="#fff"/><rect x="573.90" y="326.36" width="3.21" height="3.04" fill="#fff"/>
<text x="586.25" y="317.7" font-size="12.5">-11</text><rect x="591.00" y="315.77" width="2.50" height="2.63" fill="#fff"/><rect x="594.72" y="315.77" width="2.40" height="2.63" fill="#fff"/><rect x="597.95" y="315.77" width="2.50" height="2.63" fill="#fff"/><rect x="601.67" y="315.77" width="2.40" height="2.63" fill="#fff"/>
<text transform="translate(608.02,328.7) scale(0.965,1)" font-size="18">(8%)</text>
<text transform="translate(477.03,351.2) scale(0.93,1)" font-size="18">K</text>
<text x="489.28" y="356.0" font-size="12.5">D2</text>
<text transform="translate(510.38,352.7) scale(0.93,1)" font-size="18">=</text>
<text transform="translate(525.26,352.7) scale(0.93,1)" font-size="18">3.0</text>
<text transform="translate(554.62,352.7) scale(0.93,1)" font-size="18">x</text>
<text transform="translate(568.13,352.7) scale(0.93,1)" font-size="18">10</text><rect x="568.91" y="350.36" width="3.34" height="3.04" fill="#fff"/><rect x="573.90" y="350.36" width="3.21" height="3.04" fill="#fff"/>
<text x="585.95" y="347.8" font-size="12.5">-9</text>
<text transform="translate(608.42,352.7) scale(0.965,1)" font-size="18">(92%)</text>
<path d="M420.6,308.3 C420.87,311.37 421.52,321.00 422.2,326.7 C422.88,332.40 423.75,337.22 424.7,342.5 C425.65,347.78 426.73,352.58 427.9,358.4 C429.07,364.22 430.43,371.60 431.7,377.4 C432.97,383.20 434.18,388.72 435.5,393.2 C436.82,397.68 437.87,400.87 439.6,404.3 C441.33,407.73 443.27,411.00 445.9,413.8 C448.53,416.60 451.97,418.98 455.4,421.1 C458.83,423.22 462.27,424.82 466.5,426.5 C470.73,428.18 475.78,429.58 480.8,431.2 C485.82,432.82 489.02,434.23 496.6,436.2 C504.18,438.17 517.40,441.13 526.3,443 C535.20,444.87 542.72,446.10 550,447.4 C557.28,448.70 563.50,449.83 570,450.8 C576.50,451.77 585.83,452.80 589,453.2" fill="none" stroke="#111" stroke-width="2.6" stroke-linecap="round" stroke-linejoin="round"/>
<circle cx="421" cy="337.4" r="3.45" fill="#111"/>
<circle cx="426.5" cy="374.7" r="3.45" fill="#111"/>
<circle cx="430" cy="393" r="3.45" fill="#111"/>
<circle cx="437.2" cy="405.5" r="3.45" fill="#111"/>
<circle cx="458.9" cy="409.1" r="3.45" fill="#111"/>
<circle cx="480.3" cy="430.2" r="3.45" fill="#111"/>
<circle cx="496.3" cy="437.9" r="3.45" fill="#111"/>
<circle cx="527.2" cy="443.4" r="3.45" fill="#111"/>
<circle cx="566.8" cy="447.2" r="3.45" fill="#111"/>
<circle cx="601" cy="450" r="3.45" fill="#111"/>
<path d="M746.4,304 L752.4,334.4 C754,342 755,346 756.4,350 S758.5,357 760.9,361.9 S766,368 771.3,372.3 S782,380 789.1,384.2 S800,389.5 807.5,393 S830,402.3 842,407.3 S859,414.4 868.7,418.3 S887,424.6 895.7,427.8 L940,446 L960,452.6 Z" fill="#fcfcfc" stroke="none"/>
<text x="726.5" y="279.6" font-size="15" font-weight="700" text-anchor="end">.08</text>
<text x="726.5" y="325" font-size="15" font-weight="700" text-anchor="end">.06</text>
<text x="726.5" y="371.2" font-size="15" font-weight="700" text-anchor="end">.04</text>
<text x="726.5" y="416.3" font-size="15" font-weight="700" text-anchor="end">.02</text>
<text x="726.5" y="454.9" font-size="15" font-weight="700" text-anchor="end">.00</text>
<text x="738.1" y="471.7" font-size="15" font-weight="700" text-anchor="middle">0</text>
<text x="799.99" y="475.9" font-size="17.3" textLength="46.26" lengthAdjust="spacingAndGlyphs">2.0x10</text><rect x="829.84" y="473.61" width="3.08" height="2.99" fill="#fff"/><rect x="834.43" y="473.61" width="2.96" height="2.99" fill="#fff"/>
<text x="846.31" y="470.1" font-size="15" textLength="18.06" lengthAdjust="spacingAndGlyphs">-11</text><rect x="851.06" y="467.98" width="2.49" height="2.82" fill="#fff"/><rect x="854.78" y="467.98" width="2.40" height="2.82" fill="#fff"/><rect x="858.00" y="467.98" width="2.49" height="2.82" fill="#fff"/><rect x="861.72" y="467.98" width="2.40" height="2.82" fill="#fff"/>
<text x="891.67" y="475.9" font-size="17.3" textLength="45.88" lengthAdjust="spacingAndGlyphs">4.0x10</text><rect x="921.27" y="473.61" width="3.05" height="2.99" fill="#fff"/><rect x="925.82" y="473.61" width="2.93" height="2.99" fill="#fff"/>
<text x="937.61" y="470.1" font-size="15" textLength="18.06" lengthAdjust="spacingAndGlyphs">-11</text><rect x="942.36" y="467.98" width="2.49" height="2.82" fill="#fff"/><rect x="946.08" y="467.98" width="2.40" height="2.82" fill="#fff"/><rect x="949.30" y="467.98" width="2.49" height="2.82" fill="#fff"/><rect x="953.02" y="467.98" width="2.40" height="2.82" fill="#fff"/>
<text x="980.28" y="475.9" font-size="17.3" textLength="46.28" lengthAdjust="spacingAndGlyphs">6.0x10</text><rect x="1010.14" y="473.61" width="3.08" height="2.99" fill="#fff"/><rect x="1014.73" y="473.61" width="2.96" height="2.99" fill="#fff"/>
<text x="1026.61" y="470.1" font-size="15" textLength="18.06" lengthAdjust="spacingAndGlyphs">-11</text><rect x="1031.36" y="467.98" width="2.49" height="2.82" fill="#fff"/><rect x="1035.08" y="467.98" width="2.40" height="2.82" fill="#fff"/><rect x="1038.30" y="467.98" width="2.49" height="2.82" fill="#fff"/><rect x="1042.02" y="467.98" width="2.40" height="2.82" fill="#fff"/>
<line x1="739.3" y1="272.6" x2="739.3" y2="454.5" stroke="#111" stroke-width="3.8"/>
<line x1="732.6" y1="454.5" x2="1009.7" y2="454.5" stroke="#111" stroke-width="3.8"/>
<line x1="733.8000000000001" y1="274.30" x2="739.3" y2="274.30" stroke="#111" stroke-width="3.4" stroke-linecap="round"/>
<line x1="733.8000000000001" y1="319.35" x2="739.3" y2="319.35" stroke="#111" stroke-width="3.4" stroke-linecap="round"/>
<line x1="733.8000000000001" y1="364.40" x2="739.3" y2="364.40" stroke="#111" stroke-width="3.4" stroke-linecap="round"/>
<line x1="733.8000000000001" y1="409.45" x2="739.3" y2="409.45" stroke="#111" stroke-width="3.4" stroke-linecap="round"/>
<line x1="740" y1="454.5" x2="740" y2="461.1" stroke="#111" stroke-width="3.4"/>
<line x1="829.4" y1="454.5" x2="829.4" y2="461.1" stroke="#111" stroke-width="3.4"/>
<line x1="919.6" y1="454.5" x2="919.6" y2="461.1" stroke="#111" stroke-width="3.4"/>
<line x1="1008" y1="454.5" x2="1008" y2="461.1" stroke="#111" stroke-width="3.4"/>
<text x="877" y="499" font-size="16" font-weight="700" text-anchor="middle">Bound (M)</text>
<text x="888.7" y="298.4" font-size="22" font-weight="700" text-anchor="middle">DLDD-EGFR</text>
<text transform="translate(810.43,324.9) scale(0.93,1)" font-size="18">K</text>
<text x="822.38" y="330" font-size="12.5">D1</text><rect x="831.99" y="328.07" width="2.50" height="2.63" fill="#fff"/><rect x="835.72" y="328.07" width="2.40" height="2.63" fill="#fff"/>
<text transform="translate(844.08,328) scale(0.93,1)" font-size="18">=</text>
<text transform="translate(859.86,328) scale(0.93,1)" font-size="18">3.1</text><rect x="874.61" y="325.66" width="3.34" height="3.04" fill="#fff"/><rect x="879.59" y="325.66" width="3.21" height="3.04" fill="#fff"/>
<text transform="translate(888.22,328) scale(0.93,1)" font-size="18">x</text>
<text transform="translate(901.43,328) scale(0.93,1)" font-size="18">10</text><rect x="902.21" y="325.66" width="3.34" height="3.04" fill="#fff"/><rect x="907.20" y="325.66" width="3.21" height="3.04" fill="#fff"/>
<text x="920.65" y="319.2" font-size="12.5">-11</text><rect x="925.40" y="317.27" width="2.50" height="2.63" fill="#fff"/><rect x="929.12" y="317.27" width="2.40" height="2.63" fill="#fff"/><rect x="932.35" y="317.27" width="2.50" height="2.63" fill="#fff"/><rect x="936.07" y="317.27" width="2.40" height="2.63" fill="#fff"/>
<text transform="translate(945.92,322) scale(0.965,1)" font-size="18">(3%)</text>
<text transform="translate(810.43,350.7) scale(0.93,1)" font-size="18">K</text>
<text x="823.38" y="355.2" font-size="12.5">D2</text>
<text transform="translate(844.08,351.8) scale(0.93,1)" font-size="18">=</text>
<text transform="translate(860.23,351.8) scale(0.93,1)" font-size="18">1.2</text><rect x="861.01" y="349.46" width="3.34" height="3.04" fill="#fff"/><rect x="866.00" y="349.46" width="3.21" height="3.04" fill="#fff"/>
<text transform="translate(888.22,351.8) scale(0.93,1)" font-size="18">x</text>
<text transform="translate(901.43,351.8) scale(0.93,1)" font-size="18">10</text><rect x="902.21" y="349.46" width="3.34" height="3.04" fill="#fff"/><rect x="907.20" y="349.46" width="3.21" height="3.04" fill="#fff"/>
<text x="919.95" y="339.8" font-size="12.5">-9</text>
<text transform="translate(943.82,351.8) scale(0.965,1)" font-size="18">(94%)</text>
<path d="M746.4,304 L752.4,334.4 C754,342 755,346 756.4,350 S758.5,357 760.9,361.9 S766,368 771.3,372.3 S782,380 789.1,384.2 S800,389.5 807.5,393 S830,402.3 842,407.3 S859,414.4 868.7,418.3 S887,424.6 895.7,427.8 L940,446 L960,452.6" fill="none" stroke="#111" stroke-width="2.6" stroke-linecap="round" stroke-linejoin="round"/>
<circle cx="746.4" cy="304" r="3.45" fill="#111"/>
<circle cx="752.4" cy="334.4" r="3.45" fill="#111"/>
<circle cx="758.8" cy="353.6" r="3.45" fill="#111"/>
<circle cx="773.4" cy="378.8" r="3.45" fill="#111"/>
<circle cx="807.5" cy="393" r="3.45" fill="#111"/>
<circle cx="842" cy="407.3" r="3.45" fill="#111"/>
<circle cx="868.9" cy="414.4" r="3.45" fill="#111"/>
<circle cx="895.8" cy="425" r="3.45" fill="#111"/>
<circle cx="941" cy="445.6" r="3.45" fill="#111"/>
</svg>
</body></html>
